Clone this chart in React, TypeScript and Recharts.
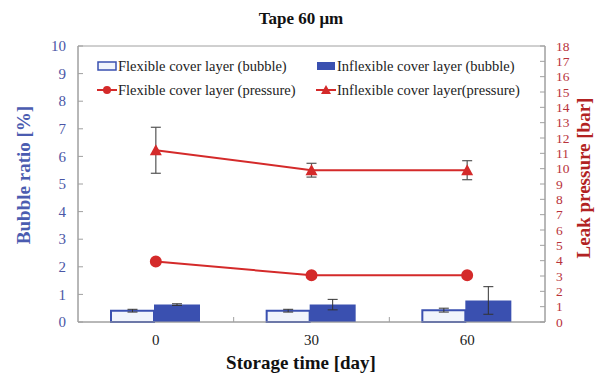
import React from 'react';
import { ComposedChart, Bar, Line, XAxis, YAxis, ErrorBar, Legend, ReferenceArea } from 'recharts';

const categories = ['0', '30', '60'];
const flexBubble = [0.41, 0.41, 0.43];
const flexBubbleErr = [0.05, 0.05, 0.07];
const inflexBubble = [0.63, 0.63, 0.78];
const inflexBubbleErr = [0.03, 0.19, 0.5];
const flexPressure = [3.95, 3.05, 3.05];
const inflexPressure = [11.2, 9.9, 9.9];
const inflexPressureErr = [1.5, 0.45, 0.62];
const leftTicks = [0, 1, 2, 3, 4, 5, 6, 7, 8, 9, 10];
const rightTicks = [0, 1, 2, 3, 4, 5, 6, 7, 8, 9, 10, 11, 12, 13, 14, 15, 16, 17, 18];

const data = categories.map((c, i) => ({
  day: c,
  flexBubble: flexBubble[i],
  flexBubbleErr: flexBubbleErr[i],
  inflexBubble: inflexBubble[i],
  inflexBubbleErr: inflexBubbleErr[i],
  flexPressure: flexPressure[i],
  inflexPressure: inflexPressure[i],
  inflexPressureErr: inflexPressureErr[i],
}));

const FONT = "'Liberation Serif', 'Times New Roman', serif";
const BLUE = '#3a50b0';
const LIGHT = '#f0f4fc';
const RED = '#d42a2a';
const LEFT_TXT = '#4a56a6';
const RIGHT_TXT = '#b8323a';
const GRID = '#a0a0a0';
const W = 602;
const H = 380;
const PLOT_L = 78;
const PLOT_R = 545;

const LeftTick = (props: any) => {
  const { x, y, payload } = props;
  return (
    <g>
      <line x1={x + 8} x2={x + 13} y1={y} y2={y} stroke={GRID} />
      <text x={x - 4} y={y} dy="0.35em" textAnchor="end" fill={LEFT_TXT} fontSize={15} fontFamily={FONT}>
        {payload.value}
      </text>
    </g>
  );
};

const RightTick = (props: any) => {
  const { x, y, payload } = props;
  return (
    <g>
      <line x1={x - 8} x2={x - 13} y1={y} y2={y} stroke={GRID} />
      <text x={x + 3} y={y} dy="0.35em" textAnchor="start" fill={RIGHT_TXT} fontSize={13.5} fontFamily={FONT}>
        {payload.value}
      </text>
    </g>
  );
};

const XTick = (props: any) => {
  const { x, y, payload, index } = props;
  const half = (PLOT_R - PLOT_L) / categories.length / 2;
  return (
    <g>
      {index < categories.length - 1 && (
        <line x1={x + half} x2={x + half} y1={y - 12} y2={y - 17} stroke={GRID} />
      )}
      <text x={x} y={y} dy="0.71em" textAnchor="middle" fill="#222" fontSize={15} fontFamily={FONT}>
        {payload.value}
      </text>
    </g>
  );
};

const TriangleDot = (props: any) => {
  const { cx, cy, index } = props;
  if (cx == null || cy == null) return <g key={index} />;
  return <path key={index} d={`M${cx},${cy - 6} L${cx + 6},${cy + 5} L${cx - 6},${cy + 5} Z`} fill={RED} />;
};

const LegendContent = () => {
  const item = (icon: React.ReactNode, label: string) => (
    <div style={{ display: 'flex', alignItems: 'center', height: 24 }}>
      <svg width={20} height={12} style={{ marginRight: 1 }}>{icon}</svg>
      <span>{label}</span>
    </div>
  );
  return (
    <div style={{ fontFamily: FONT, fontSize: 14.5, color: '#222', display: 'grid', gridTemplateColumns: '219px 220px' }}>
      {item(<rect x={1} y={2} width={18} height={8} fill={LIGHT} stroke={BLUE} strokeWidth={1.5} />, 'Flexible cover layer (bubble)')}
      {item(<rect x={1} y={2} width={18} height={8} fill={BLUE} />, 'Inflexible cover layer (bubble)')}
      {item(
        <g>
          <line x1={0} x2={20} y1={6} y2={6} stroke={RED} strokeWidth={2} />
          <circle cx={10} cy={6} r={4} fill={RED} />
        </g>,
        'Flexible cover layer (pressure)'
      )}
      {item(
        <g>
          <line x1={0} x2={20} y1={6} y2={6} stroke={RED} strokeWidth={2} />
          <path d="M10,1 L15,10 L5,10 Z" fill={RED} />
        </g>,
        'Inflexible cover layer(pressure)'
      )}
    </div>
  );
};

export default function App() {
  return (
    <div style={{ position: 'absolute', left: 0, top: 0, width: W, height: H, background: '#fff', fontFamily: FONT }}>
      <ComposedChart
        width={W}
        height={H}
        data={data}
        margin={{ top: 46, right: 0, left: 0, bottom: 0 }}
        barGap={0}
        barCategoryGap="22%"
      >
        <ReferenceArea yAxisId="left" y1={0} y2={10} fill="none" stroke={GRID} strokeWidth={1} ifOverflow="visible" />
        <XAxis
          dataKey="day"
          height={58}
          tickLine={false}
          tickSize={0}
          tickMargin={12}
          axisLine={{ stroke: GRID }}
          tick={<XTick />}
          interval={0}
        />
        <YAxis
          yAxisId="left"
          width={78}
          domain={[0, 10]}
          ticks={leftTicks}
          interval={0}
          tickLine={false}
          tickSize={0}
          tickMargin={8}
          axisLine={{ stroke: GRID }}
          tick={<LeftTick />}
        />
        <YAxis
          yAxisId="right"
          orientation="right"
          width={57}
          domain={[0, 18]}
          ticks={rightTicks}
          interval={0}
          tickLine={false}
          tickSize={0}
          tickMargin={8}
          axisLine={{ stroke: GRID }}
          tick={<RightTick />}
        />
        <Legend
          layout="horizontal"
          verticalAlign="middle"
          align="center"
          content={<LegendContent />}
          wrapperStyle={{ position: 'absolute', top: 54, left: 97, width: 440, height: 50 }}
        />
        <Bar yAxisId="left" dataKey="flexBubble" fill={LIGHT} stroke={BLUE} strokeWidth={2} barSize={43} isAnimationActive={false}>
          <ErrorBar dataKey="flexBubbleErr" width={5} stroke="#333" strokeWidth={1} />
        </Bar>
        <Bar yAxisId="left" dataKey="inflexBubble" fill={BLUE} barSize={46} isAnimationActive={false}>
          <ErrorBar dataKey="inflexBubbleErr" width={5} stroke="#333" strokeWidth={1} />
        </Bar>
        <Line
          yAxisId="right"
          dataKey="flexPressure"
          stroke={RED}
          strokeWidth={2}
          dot={{ r: 5, fill: RED, stroke: RED }}
          isAnimationActive={false}
        />
        <Line
          yAxisId="right"
          dataKey="inflexPressure"
          stroke={RED}
          strokeWidth={2}
          dot={<TriangleDot />}
          isAnimationActive={false}
        >
          <ErrorBar dataKey="inflexPressureErr" width={5} stroke="#555" strokeWidth={1.2} />
        </Line>
      </ComposedChart>
      <div style={{ position: 'absolute', left: 0, width: W, top: 9, textAlign: 'center', fontWeight: 'bold', fontSize: 17, color: '#111' }}>
        Tape 60 μm
      </div>
      <div style={{ position: 'absolute', left: 0, width: W, top: 352, textAlign: 'center', fontWeight: 'bold', fontSize: 19, color: '#111' }}>
        Storage time [day]
      </div>
      <div style={{ position: 'absolute', left: 24, top: 175, transform: 'translate(-50%, -50%) rotate(-90deg)', whiteSpace: 'nowrap', fontWeight: 'bold', fontSize: 19, color: '#4b5cb0' }}>
        Bubble ratio [%]
      </div>
      <div style={{ position: 'absolute', left: 584, top: 178, transform: 'translate(-50%, -50%) rotate(-90deg)', whiteSpace: 'nowrap', fontWeight: 'bold', fontSize: 19, color: '#b22222' }}>
        Leak pressure [bar]
      </div>
    </div>
  );
}
